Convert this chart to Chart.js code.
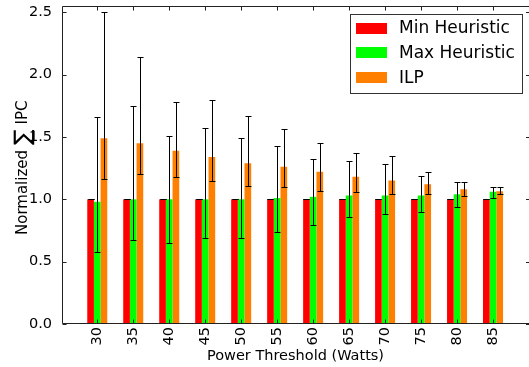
<!DOCTYPE html>
<html>
<head>
<meta charset="utf-8">
<script src="https://cdn.jsdelivr.net/npm/chart.js@4/dist/chart.umd.min.js"></script>
<style>
  html, body { margin: 0; padding: 0; background: #fff; }
  #wrap { width: 529px; height: 367px; }
</style>
</head>
<body>
<div id="wrap"><canvas id="c" width="529" height="367"></canvas></div>
<script>
// Power thresholds (Watts)
const categories = [30, 35, 40, 45, 50, 55, 60, 65, 70, 75, 80, 85];
const yTicks = [0.0, 0.5, 1.0, 1.5, 2.0, 2.5];

// Normalized sum of IPC per policy
const minHeuristic = [1.0, 1.0, 1.0, 1.0, 1.0, 1.0, 1.0, 1.0, 1.0, 1.0, 1.0, 1.0];
const maxHeuristic = [0.98, 1.0, 1.0, 1.0, 1.0, 1.01, 1.02, 1.03, 1.03, 1.03, 1.04, 1.06];
const ilp          = [1.49, 1.45, 1.39, 1.34, 1.29, 1.26, 1.22, 1.18, 1.15, 1.12, 1.08, 1.065];

// Error ranges (lower / upper)
const minHeuristicLow  = [1.0, 1.0, 1.0, 1.0, 1.0, 1.0, 1.0, 1.0, 1.0, 1.0, 1.0, 1.0];
const minHeuristicHigh = [1.0, 1.0, 1.0, 1.0, 1.0, 1.0, 1.0, 1.0, 1.0, 1.0, 1.0, 1.0];
const maxHeuristicLow  = [0.58, 0.67, 0.65, 0.69, 0.69, 0.74, 0.79, 0.86, 0.88, 0.90, 0.94, 1.01];
const maxHeuristicHigh = [1.66, 1.75, 1.51, 1.57, 1.49, 1.43, 1.32, 1.31, 1.28, 1.19, 1.14, 1.10];
const ilpLow  = [1.16, 1.20, 1.18, 1.15, 1.11, 1.10, 1.07, 1.06, 1.04, 1.04, 1.03, 1.04];
const ilpHigh = [2.50, 2.14, 1.78, 1.80, 1.67, 1.56, 1.45, 1.37, 1.35, 1.22, 1.14, 1.10];

const FONT = '"DejaVu Sans", sans-serif';

function points(values) {
  return categories.map((c, i) => ({ x: c, y: values[i] }));
}

// Vertical error bars with caps, positioned from the bar elements and the y scale
const errorBars = {
  id: 'errorBars',
  afterDatasetsDraw(chart) {
    const ctx = chart.ctx;
    const yScale = chart.scales.y;
    ctx.save();
    ctx.strokeStyle = '#000';
    ctx.lineWidth = 1;
    chart.data.datasets.forEach((ds, di) => {
      const meta = chart.getDatasetMeta(di);
      meta.data.forEach((bar, j) => {
        const x = Math.round(bar.x) + 0.5;
        const yLo = Math.round(yScale.getPixelForValue(ds.errLow[j])) + 0.5;
        const yHi = Math.round(yScale.getPixelForValue(ds.errHigh[j])) + 0.5;
        const cap = 3;
        ctx.beginPath();
        ctx.moveTo(x, yLo); ctx.lineTo(x, yHi);
        ctx.moveTo(x - cap, yLo); ctx.lineTo(x + cap, yLo);
        ctx.moveTo(x - cap, yHi); ctx.lineTo(x + cap, yHi);
        ctx.stroke();
      });
    });
    ctx.restore();
  }
};

// Axes frame with inward tick marks, axis titles and the legend box
const frame = {
  id: 'frame',
  afterDraw(chart) {
    const ctx = chart.ctx;
    const a = chart.chartArea;
    const xs = chart.scales.x, ys = chart.scales.y;
    const L = Math.round(a.left) + 0.5, T = Math.round(a.top) + 0.5, B = Math.round(a.bottom) - 0.5;
    const R = chart.width + 1;
    ctx.save();
    ctx.strokeStyle = '#222';
    ctx.lineWidth = 1;
    ctx.beginPath();
    ctx.moveTo(L, B); ctx.lineTo(L, T); ctx.lineTo(R, T);
    ctx.moveTo(L, B); ctx.lineTo(R, B);
    const tl = 4;
    categories.forEach(v => {
      const x = Math.round(xs.getPixelForValue(v)) + 0.5;
      ctx.moveTo(x, B); ctx.lineTo(x, B - tl);
      ctx.moveTo(x, T); ctx.lineTo(x, T + tl);
    });
    yTicks.forEach(v => {
      const y = Math.round(ys.getPixelForValue(v)) + 0.5;
      ctx.moveTo(L, y); ctx.lineTo(L + tl, y);
      ctx.moveTo(chart.width + 1, y); ctx.lineTo(chart.width + 1 - tl, y);
    });
    ctx.stroke();

    // x axis title
    ctx.fillStyle = '#000';
    ctx.font = '14.5px ' + FONT;
    ctx.textAlign = 'center';
    ctx.textBaseline = 'middle';
    ctx.fillText('Power Threshold (Watts)', (a.left + chart.width) / 2, 356);

    // y axis title, rotated, with a larger summation sign
    ctx.save();
    ctx.translate(27, 235);
    ctx.rotate(-Math.PI / 2);
    ctx.textAlign = 'left';
    ctx.textBaseline = 'alphabetic';
    ctx.font = '15px ' + FONT;
    let pos = 0;
    ctx.fillText('Normalized', pos, 0);
    pos += ctx.measureText('Normalized').width + 5;
    ctx.font = '23px ' + FONT;
    ctx.fillText('\u2211', pos, 3);
    pos += ctx.measureText('\u2211').width + 5;
    ctx.font = '15px ' + FONT;
    ctx.fillText('IPC', pos, 0);
    ctx.restore();

    // legend
    const lx = 350.5, ly = 14.5, lw = 172, lh = 79;
    ctx.fillStyle = '#fff';
    ctx.fillRect(lx, ly, lw, lh);
    ctx.strokeStyle = '#333';
    ctx.strokeRect(lx, ly, lw, lh);
    ctx.font = '17px ' + FONT;
    ctx.textAlign = 'left';
    ctx.textBaseline = 'middle';
    chart.data.datasets.forEach((ds, i) => {
      const cy = 28 + i * 24.7;
      ctx.fillStyle = ds.backgroundColor;
      ctx.fillRect(356, Math.round(cy - 5.5), 31, 11);
      ctx.fillStyle = '#000';
      ctx.fillText(ds.label, 399, cy + 1);
    });
    ctx.restore();
  }
};

new Chart(document.getElementById('c'), {
  type: 'bar',
  data: {
    datasets: [
      { label: 'Min Heuristic', data: points(minHeuristic), backgroundColor: '#ff0000',
        errLow: minHeuristicLow, errHigh: minHeuristicHigh },
      { label: 'Max Heuristic', data: points(maxHeuristic), backgroundColor: '#00ff00',
        errLow: maxHeuristicLow, errHigh: maxHeuristicHigh },
      { label: 'ILP', data: points(ilp), backgroundColor: '#ff7f00',
        errLow: ilpLow, errHigh: ilpHigh }
    ]
  },
  options: {
    responsive: false,
    animation: false,
    devicePixelRatio: 1,
    categoryPercentage: 0.556,
    barPercentage: 1.0,
    layout: { padding: { top: 6, right: 0, bottom: 0, left: 0 } },
    plugins: { legend: { display: false }, tooltip: { enabled: false } },
    scales: {
      x: {
        type: 'linear',
        offset: false,
        min: 25.1,
        max: 90,
        grid: { display: false },
        border: { display: false },
        afterBuildTicks: s => { s.ticks = categories.map(v => ({ value: v })); },
        afterFit: s => { s.height = 43; s.paddingLeft = 0; s.paddingRight = 0; },
        ticks: {
          autoSkip: false,
          minRotation: 90,
          maxRotation: 90,
          padding: -5,
          color: '#000',
          font: { family: FONT, size: 14.5 },
          callback: v => String(v)
        }
      },
      y: {
        min: 0,
        max: 2.55,
        grid: { display: false },
        border: { display: false },
        afterBuildTicks: s => { s.ticks = yTicks.map(v => ({ value: v })); },
        afterFit: s => { s.width = 62; s.paddingTop = 0; s.paddingBottom = 0; },
        ticks: {
          padding: 2,
          color: '#000',
          font: { family: FONT, size: 14.5 },
          callback: v => v.toFixed(1)
        }
      }
    }
  },
  plugins: [errorBars, frame]
});
</script>
</body>
</html>
